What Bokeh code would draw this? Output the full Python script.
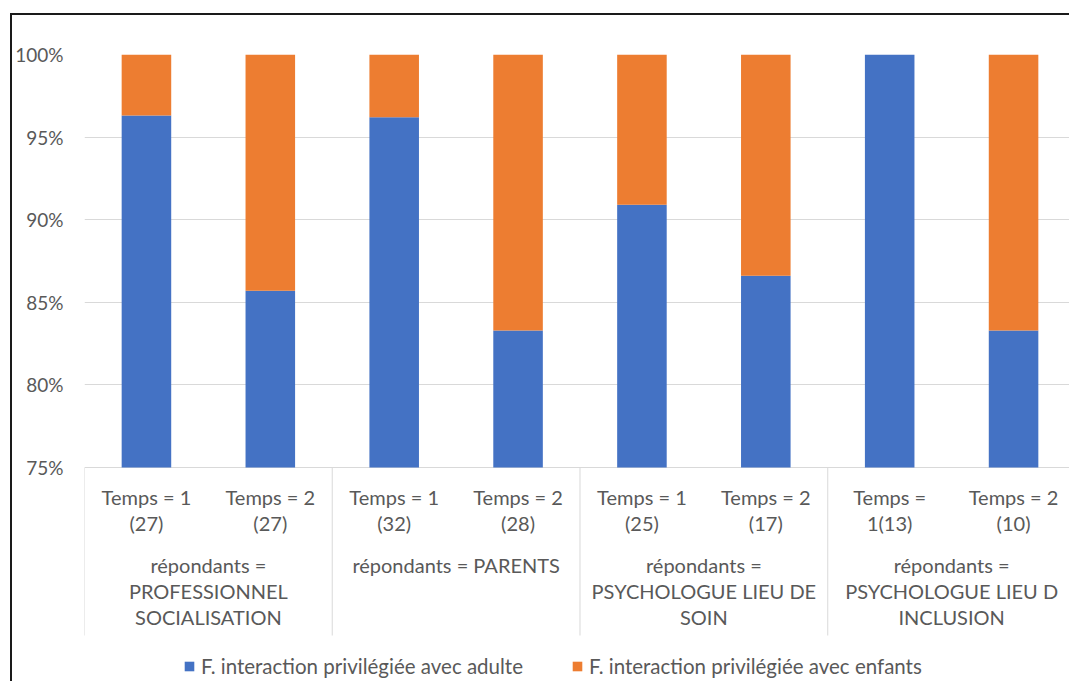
from bokeh.plotting import figure
from bokeh.models import (Range1d, PrintfTickFormatter, Legend, LegendItem,
                          ColumnDataSource, SingleIntervalTicker)
from bokeh.core.properties import value
from bokeh.embed import file_html
from bokeh.resources import INLINE

# ---------------- data ----------------
groups = ["répondants =\nPROFESSIONNEL\nSOCIALISATION",
          "répondants = PARENTS",
          "répondants =\nPSYCHOLOGUE LIEU DE\nSOIN",
          "répondants =\nPSYCHOLOGUE LIEU D\nINCLUSION"]
temps = ["Temps = 1\n(27)", "Temps = 2\n(27)",
         "Temps = 1\n(32)", "Temps = 2\n(28)",
         "Temps = 1\n(25)", "Temps = 2\n(17)",
         "Temps =\n1(13)", "Temps = 2\n(10)"]
series = ["F. interaction privilégiée avec adulte",
          "F. interaction privilégiée avec enfants"]
adulte = [96.3, 85.7, 96.2, 83.3, 90.9, 86.6, 100.0, 83.3]
enfants = [3.7, 14.3, 3.8, 16.7, 9.1, 13.4, 0.0, 16.7]
colors = ["#4472C4", "#ED7D31"]
Y_FLOOR, Y_CEIL = 75, 100

# ---------------- layout constants ----------------
FONT = "Lato"
FS = "20px"
GREY = "#595959"
LIGHT = "#D9D9D9"
W, H = 1059, 668
LEFT, TOP = 71, 39
PX_PER_UNIT = 413 / 25.0
Y_MIN = Y_CEIL - (H - TOP) / PX_PER_UNIT
X_MAX = (W - LEFT) / 124.0
SEP_BOTTOM = Y_FLOOR - 168 / PX_PER_UNIT
per_group = 2

xs = [i + 0.5 for i in range(len(temps))]
group_x = [g * per_group + per_group / 2 for g in range(len(groups))]
sep_x = [g * per_group for g in range(len(groups))]
total = [a + e for a, e in zip(adulte, enfants)]

source = ColumnDataSource(dict(x=xs, adulte=adulte, total=total,
                               floor=[Y_FLOOR] * len(xs)))

p = figure(x_range=Range1d(0, X_MAX), y_range=Range1d(Y_MIN, Y_CEIL),
           width=W, height=H, output_backend="svg", toolbar_location=None,
           x_axis_location=None,
           min_border_left=LEFT, min_border_right=0, min_border_top=TOP,
           min_border_bottom=0)
p.styles = {"margin-left": "10px", "margin-top": "13px",
            "border-left": "2px solid #1a1a1a", "border-top": "2px solid #1a1a1a"}

r_ad = p.vbar(x="x", bottom="floor", top="adulte", width=0.4, color=colors[0],
              line_color=None, source=source)
r_en = p.vbar(x="x", bottom="adulte", top="total", width=0.4, color=colors[1],
              line_color=None, source=source)

p.outline_line_color = None
p.xgrid.grid_line_color = None
p.ygrid.grid_line_color = LIGHT
p.ygrid.grid_line_width = 1
p.ygrid.bounds = (Y_FLOOR, Y_CEIL)

ya = p.yaxis[0]
ya.bounds = (Y_FLOOR, Y_CEIL)
ya.ticker = SingleIntervalTicker(interval=5)
ya.formatter = PrintfTickFormatter(format="%d%%")
ya.axis_line_color = None
ya.major_tick_line_color = None
ya.major_tick_out = 0
ya.major_tick_in = 0
ya.minor_tick_line_color = None
ya.minor_tick_out = 0
ya.major_label_standoff = 21
ya.major_label_text_font = FONT
ya.major_label_text_font_size = "19px"
ya.major_label_text_color = GREY

# category axis (separators + labels)
p.segment(x0=sep_x, x1=sep_x, y0=[Y_FLOOR] * len(sep_x), y1=[SEP_BOTTOM] * len(sep_x),
          line_color=LIGHT, line_width=1)
p.text(x=xs, y=[Y_FLOOR] * len(xs), text=temps, y_offset=17,
       text_align="center", text_baseline="top", text_font=value(FONT),
       text_font_size=FS, text_color=GREY, text_line_height=1.09)
p.text(x=group_x, y=[Y_FLOOR] * len(group_x), text=groups, y_offset=85,
       text_align="center", text_baseline="top", text_font=value(FONT),
       text_font_size=FS, text_color=GREY, text_line_height=1.1)

legend = Legend(items=[LegendItem(label=series[0], renderers=[r_ad]),
                       LegendItem(label=series[1], renderers=[r_en])],
                orientation="horizontal", location=(99, 5),
                border_line_color=None, background_fill_alpha=0,
                label_text_font=FONT, label_text_font_size="20.5px",
                label_text_color=GREY, glyph_width=12, glyph_height=12,
                spacing=48, label_standoff=6, padding=0, margin=0)
p.add_layout(legend, "center")

open("out.html", "w").write(file_html(p, INLINE))
